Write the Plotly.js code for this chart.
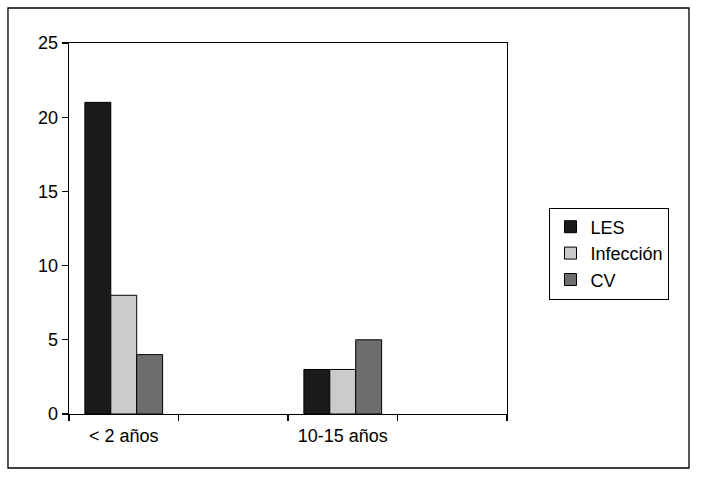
<!DOCTYPE html>
<html>
<head>
<meta charset="utf-8">
<script src="https://cdn.plot.ly/plotly-3.0.1.min.js"></script>
<style>html,body{margin:0;padding:0;background:#fff;}#chart{width:701px;height:481px;}</style>
</head>
<body>
<div id="chart"></div>
<script>
// Categories (two empty slots, as in the original chart)
const categories = ["< 2 años", " ", "10-15 años", "  "];
const seriesNames = ["LES", "Infección", "CV"];
const lesValues = [21, null, 3, null];
const infeccionValues = [8, null, 3, null];
const cvValues = [4, null, 5, null];
const yTicks = [0, 5, 10, 15, 20, 25];

const colors = ["#1c1a1a", "#cbcbcb", "#6e6e6e"];
const seriesValues = [lesValues, infeccionValues, cvValues];

const traces = seriesNames.map((name, i) => ({
  type: "bar",
  name: name,
  x: categories,
  y: seriesValues[i],
  marker: { color: colors[i], line: { color: "#000", width: 1 } }
}));

const font = { family: "Arial, 'Liberation Sans', Helvetica, sans-serif", size: 18, color: "#000" };

const layout = {
  width: 701,
  height: 481,
  margin: { l: 69, r: 194, t: 43, b: 67 },
  paper_bgcolor: "#fff",
  plot_bgcolor: "#fff",
  font: font,
  barmode: "group",
  bargap: 0.29,
  bargroupgap: 0,
  showlegend: true,
  legend: {
    x: 1.097, xanchor: "left",
    y: 0.4326, yanchor: "middle",
    bordercolor: "#000", borderwidth: 1,
    font: font,
    bgcolor: "#fff",
    tracegroupgap: 0
  },
  xaxis: {
    type: "category",
    categoryorder: "array",
    categoryarray: categories,
    range: [-0.5, 3.5],
    tickson: "boundaries",
    ticks: "outside",
    ticklen: 6,
    tickwidth: 1.3,
    tickcolor: "#000",
    ticklabelstandoff: 5,
    showline: true,
    linecolor: "#000",
    linewidth: 1.3,
    mirror: true,
    showgrid: false,
    zeroline: false,
    tickfont: font,
    fixedrange: true
  },
  yaxis: {
    range: [0, 25],
    tickvals: yTicks,
    ticktext: yTicks.map(String),
    ticks: "outside",
    ticklen: 6,
    tickwidth: 1.3,
    tickcolor: "#000",
    showline: true,
    linecolor: "#000",
    linewidth: 1.3,
    mirror: true,
    showgrid: false,
    zeroline: false,
    tickfont: font,
    fixedrange: true
  },
  shapes: [{
    type: "rect",
    xref: "paper", yref: "paper",
    x0: -0.1393, x1: 1.4155,
    y0: -0.1456, y1: 1.0943,
    line: { color: "#000", width: 1.3 },
    fillcolor: "rgba(0,0,0,0)",
    layer: "below"
  }]
};

Plotly.newPlot("chart", traces, layout, { displayModeBar: false, staticPlot: true });
</script>
</body>
</html>
